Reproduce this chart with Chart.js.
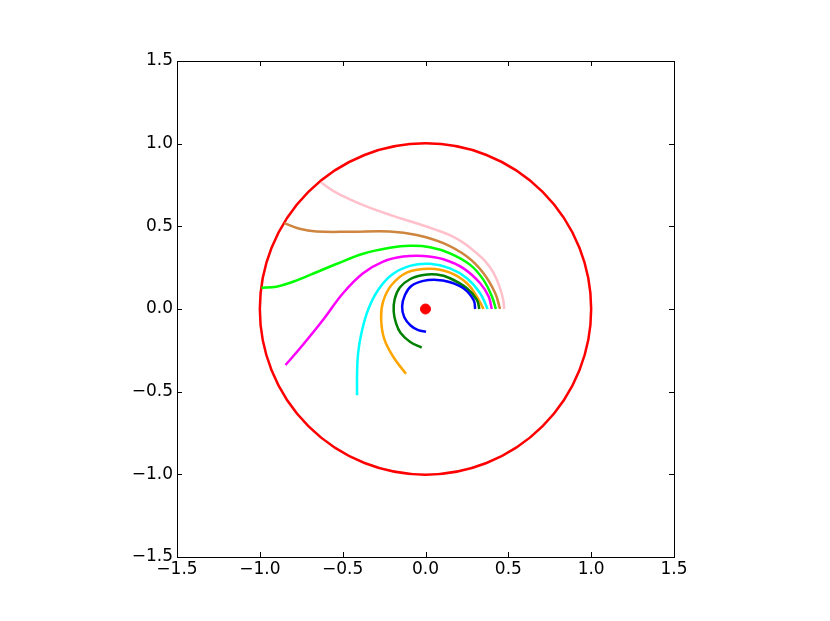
<!DOCTYPE html>
<html>
<head>
<meta charset="utf-8">
<script src="https://cdn.jsdelivr.net/npm/chart.js@4"></script>
<style>
  body { margin: 0; background: #fff; }
  canvas { display: block; }
</style>
</head>
<body>
<canvas id="orbitChart" width="830" height="621"></canvas>
<script>
// axis range and ticks
const axisMin = -1.5;
const axisMax = 1.5;
const tickValues = [-1.5, -1.0, -0.5, 0.0, 0.5, 1.0, 1.5];

// boundary circle and centre
const boundaryRadius = 1.0;
const centrePoint = [0, 0];

// trajectories, [x, y]
const blueTrack = [[0.30,0],[0.29,0.055],[0.229,0.125],[0.138,0.165],[0.068,0.176],[-0.013,0.170],[-0.084,0.140],[-0.124,0.085],[-0.141,0.015],[-0.128,-0.050],[-0.090,-0.100],[-0.044,-0.128],[0.003,-0.137]];
const greenTrack = [[0.325,0],[0.31,0.055],[0.25,0.125],[0.148,0.186],[0.068,0.208],[-0.013,0.205],[-0.094,0.180],[-0.155,0.130],[-0.186,0.060],[-0.192,-0.015],[-0.178,-0.085],[-0.150,-0.145],[-0.094,-0.198],[-0.023,-0.234]];
const orangeTrack = [[0.35,0],[0.31,0.075],[0.25,0.156],[0.148,0.220],[0.027,0.244],[-0.110,0.222],[-0.205,0.145],[-0.256,0.045],[-0.268,-0.055],[-0.250,-0.178],[-0.195,-0.289],[-0.118,-0.392]];
const cyanTrack = [[0.375,0],[0.33,0.095],[0.25,0.186],[0.148,0.246],[0.027,0.273],[-0.094,0.261],[-0.205,0.206],[-0.286,0.115],[-0.347,-0.006],[-0.387,-0.147],[-0.407,-0.269],[-0.413,-0.390],[-0.413,-0.521]];
const magentaTrack = [[0.40,0],[0.381,0.075],[0.330,0.156],[0.229,0.246],[0.108,0.301],[-0.013,0.321],[-0.135,0.317],[-0.256,0.287],[-0.377,0.216],[-0.498,0.095],[-0.619,-0.067],[-0.741,-0.218],[-0.845,-0.339]];
const limeTrack = [[0.425,0],[0.401,0.075],[0.350,0.176],[0.27,0.267],[0.148,0.337],[0.027,0.374],[-0.094,0.382],[-0.215,0.370],[-0.377,0.334],[-0.538,0.272],[-0.70,0.205],[-0.80,0.165],[-0.90,0.135],[-0.99,0.128]];
const peruTrack = [[0.45,0],[0.421,0.095],[0.350,0.216],[0.25,0.317],[0.108,0.398],[-0.053,0.448],[-0.215,0.469],[-0.458,0.467],[-0.659,0.469],[-0.76,0.485],[-0.852,0.519]];
const pinkTrack = [[0.475,0],[0.468,0.06],[0.445,0.14],[0.41,0.22],[0.36,0.29],[0.30,0.345],[0.23,0.40],[0.15,0.445],[0.06,0.48],[-0.06,0.52],[-0.20,0.565],[-0.33,0.61],[-0.45,0.66],[-0.55,0.71],[-0.63,0.765]];

const tracks = [
  { data: blueTrack, color: '#0000ff' },
  { data: greenTrack, color: '#008000' },
  { data: orangeTrack, color: '#ffa500' },
  { data: cyanTrack, color: '#00ffff' },
  { data: magentaTrack, color: '#ff00ff' },
  { data: limeTrack, color: '#00ff00' },
  { data: peruTrack, color: '#cd853f' },
  { data: pinkTrack, color: '#ffc0cb' }
];

Chart.defaults.font.family = 'DejaVu Sans';
Chart.defaults.font.size = 17;
Chart.defaults.color = '#000';

function fmtTick(v) {
  return v.toFixed(1).replace('-', '\u2212');
}

// frame, inward ticks and the boundary circle
const framePlugin = {
  id: 'frame',
  beforeDatasetsDraw(chart) {
    const { ctx, scales: { x, y } } = chart;
    const cx = x.getPixelForValue(centrePoint[0]);
    const cy = y.getPixelForValue(centrePoint[1]);
    const r = x.getPixelForValue(boundaryRadius) - cx;
    ctx.save();
    ctx.strokeStyle = '#ff0000';
    ctx.lineWidth = 2.5;
    ctx.beginPath();
    ctx.arc(cx, cy, r, 0, Math.PI * 2);
    ctx.stroke();
    ctx.restore();
  },
  afterDraw(chart) {
    const { ctx, chartArea: a, scales: { x, y } } = chart;
    ctx.save();
    ctx.strokeStyle = '#000';
    ctx.lineWidth = 1;
    ctx.strokeRect(Math.round(a.left) + 0.5, Math.round(a.top) + 0.5,
      Math.round(a.right - a.left), Math.round(a.bottom - a.top));
    ctx.beginPath();
    tickValues.forEach(v => {
      const px = Math.round(x.getPixelForValue(v)) + 0.5;
      ctx.moveTo(px, a.bottom); ctx.lineTo(px, a.bottom - 5);
      ctx.moveTo(px, a.top); ctx.lineTo(px, a.top + 5);
      const py = Math.round(y.getPixelForValue(v)) + 0.5;
      ctx.moveTo(a.left, py); ctx.lineTo(a.left + 5, py);
      ctx.moveTo(a.right, py); ctx.lineTo(a.right - 5, py);
    });
    ctx.stroke();
    ctx.restore();
  }
};

const datasets = tracks.map(t => ({
  data: t.data.map(p => ({ x: p[0], y: p[1] })),
  borderColor: t.color,
  borderWidth: 2.5,
  showLine: true,
  tension: 0.4,
  pointRadius: 0,
  fill: false
}));

datasets.push({
  data: [{ x: centrePoint[0], y: centrePoint[1] }],
  backgroundColor: '#ff0000',
  borderColor: '#ff0000',
  pointRadius: 5,
  showLine: false
});

new Chart(document.getElementById('orbitChart').getContext('2d'), {
  type: 'scatter',
  data: { datasets: datasets },
  options: {
    responsive: false,
    animation: false,
    layout: { padding: { left: 0, right: 156, top: 61, bottom: 0 } },
    plugins: { legend: { display: false }, tooltip: { enabled: false } },
    scales: {
      x: {
        type: 'linear',
        min: axisMin, max: axisMax,
        afterBuildTicks: s => { s.ticks = tickValues.map(v => ({ value: v })); },
        afterFit: s => { s.height = 64; },
        grid: { display: false, drawTicks: false },
        border: { display: false },
        ticks: { callback: v => fmtTick(v), padding: 2, maxRotation: 0 }
      },
      y: {
        type: 'linear',
        min: axisMin, max: axisMax,
        afterBuildTicks: s => { s.ticks = tickValues.map(v => ({ value: v })); },
        afterFit: s => { s.width = 177; },
        grid: { display: false, drawTicks: false },
        border: { display: false },
        ticks: { callback: v => fmtTick(v), padding: 4 }
      }
    }
  },
  plugins: [framePlugin]
});
</script>
</body>
</html>
